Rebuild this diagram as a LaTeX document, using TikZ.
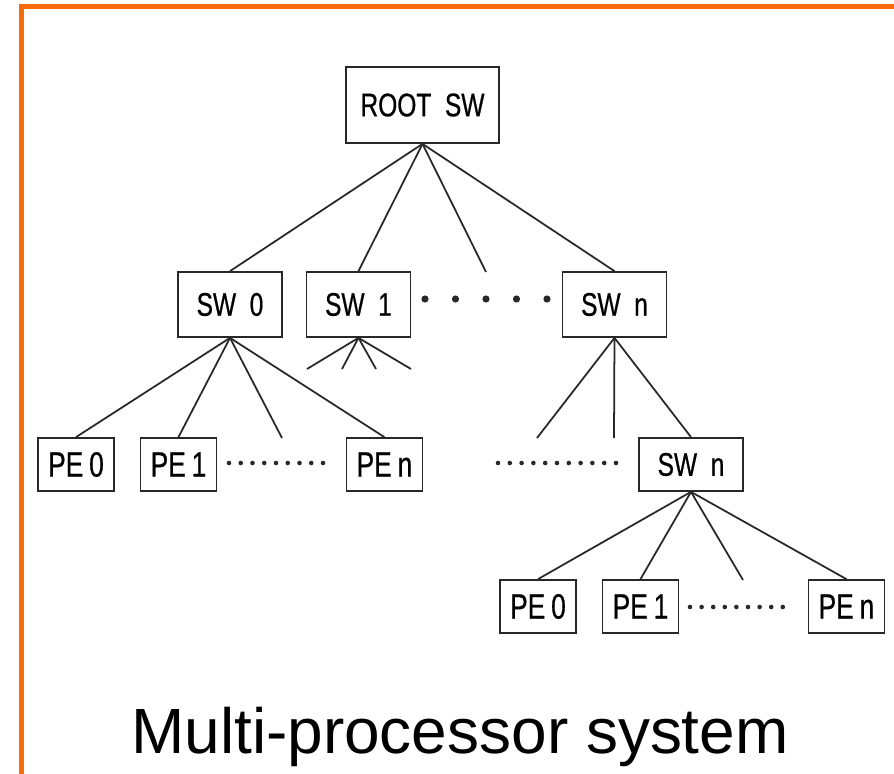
\documentclass[tikz,border=0pt]{standalone}
\usepackage{fontspec}
\setmainfont{Liberation Sans}
\newfontfamily\gothic[FakeStretch=0.75,WordSpace=2,FakeBold=0.6]{Liberation Sans}
\usepackage{xcolor}
\definecolor{edgeorange}{RGB}{250,106,12}
\definecolor{lineclr}{RGB}{40,40,40}
\usepackage{tikz}
\usetikzlibrary{positioning}
\newcommand{\lnk}[2]{\draw[link] (#1.south) -- (#2.north)}
\newcommand{\stub}[2]{\draw[link] (#1.south) -- (#2)}

\begin{document}
\begin{tikzpicture}[
      x=0.02cm,y=-0.02cm,
      node distance=2.05cm,
      link/.style={draw=lineclr,line width=1pt},
      swbox/.style={rectangle,draw=lineclr,line width=1pt,inner sep=0pt,minimum width=2.08cm,minimum height=1.3cm,font=\gothic\fontsize{18.6}{20}\selectfont},
      pebox/.style={swbox,minimum width=1.52cm,minimum height=1.06cm,font=\gothic\fontsize{20}{22}\selectfont}]

      \useasboundingbox (0,0) rectangle (894,774);
      \fill[white] (0,0) rectangle (894,774);
      \draw[edgeorange,line width=2.3pt] (21.5,774) -- (21.5,6.5) -- (894,6.5);

      % Define nodes
      \node[swbox,minimum width=3.06cm,minimum height=1.52cm] (R) at (422.5,105) {ROOT SW};
      \node[swbox] (S0) at (230,304.5) {SW 0};
      \node[swbox,right of=S0,node distance=2.57cm] (S1) {SW 1};
      \node[swbox] (SN) at (614.5,304.5) {SW n};
      \node[pebox] (P0) at (76,464.5) {PE\,0};
      \node[pebox,right of=P0] (P1) {PE\,1};
      \node[pebox,right of=P1,node distance=4.12cm] (PN) {PE\,n};
      \node[swbox,minimum height=1.06cm] (T) at (691,464.5) {SW n};
      \node[pebox] (Q0) at (538,606.5) {PE\,0};
      \node[pebox,right of=Q0] (Q1) {PE\,1};
      \node[pebox,right of=Q1,node distance=4.12cm] (QN) {PE\,n};
      \node[font=\fontsize{36.4}{40}\selectfont,anchor=base] (cap) at (460,753) {Multi-processor system};

      % open ends
      \coordinate (r3) at (486,272);
      \coordinate (a1) at (307,369);
      \coordinate (a2) at (342,369);
      \coordinate (a3) at (376,369);
      \coordinate (a4) at (411,369);
      \coordinate (b3) at (282,438);
      \coordinate (c1) at (537,438);
      \coordinate (c2) at (614,438);
      \coordinate (d3) at (743,580);

      % Draw paths
      \lnk{R}{S0};
      \lnk{R}{S1};
      \stub{R}{r3};
      \lnk{R}{SN};
      \stub{S1}{a1};
      \stub{S1}{a2};
      \stub{S1}{a3};
      \stub{S1}{a4};
      \lnk{S0}{P0};
      \lnk{S0}{P1};
      \stub{S0}{b3};
      \lnk{S0}{PN};
      \stub{SN}{c1};
      \stub{SN}{c2};
      \lnk{SN}{T};
      \lnk{T}{Q0};
      \lnk{T}{Q1};
      \stub{T}{d3};
      \lnk{T}{QN};

      % dots
      \foreach \x in {425,455.5,486,516.5,547} \fill[lineclr] (\x,299) circle (3.6);
      \foreach \i in {0,...,8} \fill[lineclr] (229+\i*11.75,463) circle (2.3);
      \foreach \i in {0,...,10} \fill[lineclr] (498+\i*11.8,463) circle (2.3);
      \foreach \i in {0,...,8} \fill[lineclr] (690+\i*11.6,607) circle (2.3);

  \end{tikzpicture}
\end{document}
